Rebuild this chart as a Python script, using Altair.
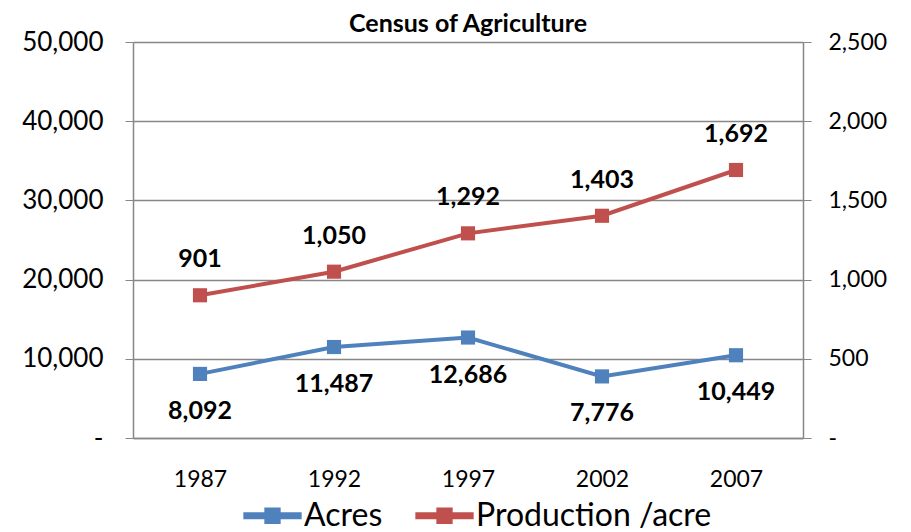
import altair as alt
import pandas as pd

years = ["1987", "1992", "1997", "2002", "2007"]
acres = [8092, 11487, 12686, 7776, 10449]
production = [901, 1050, 1292, 1403, 1692]
series_names = ["Acres", "Production /acre"]
colors = ["#4F81BD", "#C0504D"]

rows = []
for y, a in zip(years, acres):
    rows.append({"year": y, "series": series_names[0], "value": a})
for y, p in zip(years, production):
    rows.append({"year": y, "series": series_names[1], "value": p})
df = pd.DataFrame(rows)

FONT = "Lato"
label_expr = "datum.value == 0 ? '-' : format(datum.value, ',')"
legend_path = "M-1,-0.12H-0.28V-0.28H0.28V-0.12H1V0.12H0.28V0.28H-0.28V0.12H-1Z"

x_enc = alt.X("year:N", sort=years, title=None,
              axis=alt.Axis(labelAngle=0, labelFontSize=23, labelFont=FONT, labelColor="#000",
                            ticks=False, domainColor="#878787", labelPadding=30, grid=False))
color_enc = alt.Color("series:N", sort=series_names,
                      scale=alt.Scale(domain=series_names, range=colors),
                      legend=alt.Legend(orient="none", legendX=110, legendY=444,
                                        title=None, direction="horizontal",
                                        symbolType=legend_path, symbolSize=3400,
                                        symbolStrokeWidth=0, labelFontSize=32, labelFont=FONT,
                                        labelColor="#000", columnPadding=32, symbolOffset=0,
                                        padding=0, labelOffset=2, labelLimit=500))


def make_layer(name, domain_max, tick_step, orient, dy, grid):
    base = alt.Chart(df).transform_filter(alt.datum.series == name)
    y_enc = alt.Y("value:Q", title=None,
                  scale=alt.Scale(domain=[0, domain_max], nice=False),
                  axis=alt.Axis(orient=orient, values=list(range(0, domain_max + 1, tick_step)),
                                labelExpr=label_expr, grid=grid, gridColor="#878787",
                                domainColor="#878787", tickColor="#878787", tickSize=8,
                                labelFont=FONT, labelColor="#000",
                                labelFontSize=26 if orient == "left" else 23,
                                labelPadding=22 if orient == "left" else 17,
                                minExtent=120 if orient == "left" else 60))
    line = base.mark_line(strokeWidth=4).encode(x=x_enc, y=y_enc, color=color_enc)
    pts = base.mark_point(shape="square", filled=True, size=200, opacity=1).encode(
        x=x_enc, y=y_enc, color=alt.Color("series:N", scale=alt.Scale(domain=series_names, range=colors), legend=None))
    txt = base.mark_text(dy=dy, fontSize=25, fontWeight="bold", font=FONT, color="#000").encode(
        x=x_enc, y=y_enc, text=alt.Text("value:Q", format=","))
    return alt.layer(line, pts, txt)


left = make_layer(series_names[0], 50000, 10000, "left", 37, True)
right = make_layer(series_names[1], 2500, 500, "right", -36, False)

chart = alt.layer(left, right).resolve_scale(y="independent").properties(
    width=670, height=396,
    padding={"left": 5, "top": 4, "right": 5, "bottom": 30},
    title=alt.TitleParams("Census of Agriculture", fontSize=25, fontWeight="bold", font=FONT,
                          color="#000", offset=-8)
).configure_view(stroke=None).configure_axis(domainWidth=1.5, gridWidth=1.5)

chart.save("out.html", embed_options={"renderer": "svg", "actions": False})
